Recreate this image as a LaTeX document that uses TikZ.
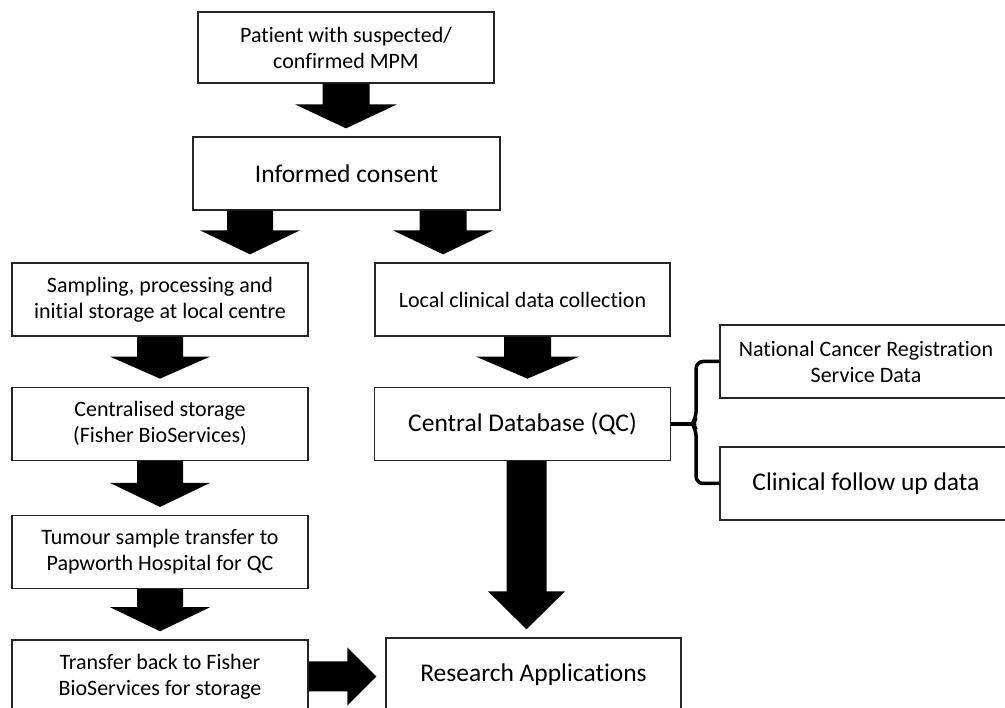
\documentclass[tikz,border=0pt]{standalone}
\usepackage{fontspec}
\setmainfont{Carlito}[Ligatures=NoCommon]
\usetikzlibrary{calc,positioning}
\tikzset{
    box/.style={
           rectangle,
           draw=black!85, line width=1.3pt,
           minimum width=296pt,
           minimum height=73pt,
           inner sep=2pt,
           align=center,
           font=\fontsize{22}{26}\selectfont},
    bigtxt/.style={
           font=\fontsize{25.5}{30}\selectfont},
    bracket/.style={
           line width=3.5pt,
           rounded corners=7pt}
}
% solid block arrows: #1 tail, #2 target, #3 half shaft, #4 half head, #5 head length
\newcommand{\downblock}[5]{%
  \fill let \p1=(#1), \p2=(#2) in
    (\x1-#3,\y1) -- (\x1+#3,\y1) -- (\x1+#3,\y2+#5+8) -- (\x1+#4,\y2+#5+8)
    -- (\x1,\y2+8) -- (\x1-#4,\y2+#5+8) -- (\x1-#3,\y2+#5+8) -- cycle;}
\newcommand{\rightblock}[5]{%
  \fill let \p1=(#1), \p2=(#2) in
    (\x1,\y1+#3) -- (\x1,\y1-#3) -- (\x2-#5-9,\y1-#3) -- (\x2-#5-9,\y1-#4)
    -- (\x2-9,\y1) -- (\x2-#5-9,\y1+#4) -- (\x2-#5-9,\y1+#3) -- cycle;}

\begin{document}
\begin{tikzpicture}[x=1pt, y=-1pt]
        \clip (0,0) rectangle (1005,708);
        \node[box, minimum height=71pt] (patient) at (346,47.5) {Patient with suspected/\\confirmed MPM};
        \node[box, bigtxt, minimum width=307pt] (consent) at (346.5,173.5) {Informed consent};
        \node[box] (sampling) at (160,299.5) {Sampling, processing and\\initial storage at local centre};
        \node[box, minimum width=295pt] (local) at (522.5,299.5) {Local clinical data collection};
        \node[box, below=50pt of sampling] (central) {Centralised storage\\(Fisher BioServices)};
        \node[box, bigtxt, below=50pt of local] (db) {Central Database (QC)};
        \node[box, below=54pt of central] (tumour) {Tumour sample transfer to\\Papworth Hospital for QC};
        \node[box, below=50pt of tumour] (transfer) {Transfer back to Fisher\\BioServices for storage};
        \node[box, bigtxt, minimum width=295pt] (research) at (533.5,674.5) {Research Applications};
        \node[box, minimum width=292pt] (ncr) at (866,361.5) {National Cancer Registration\\Service Data};
        \node[box, bigtxt, minimum width=292pt] (followup) at (866,483.5) {Clinical follow up data};

        \downblock{patient.south}{consent.north}{23.5}{51}{24}
        \downblock{$(consent.south)+(-96.5,0)$}{sampling.north}{23}{50}{24}
        \downblock{$(consent.south)+(96.5,0)$}{local.north}{23.5}{50}{24}
        \downblock{sampling.south}{central.north}{23}{50}{22}
        \downblock{$(local.south)+(5,0)$}{db.north}{23.5}{51.5}{22}
        \downblock{central.south}{tumour.north}{23}{50}{24}
        \downblock{tumour.south}{transfer.north}{23}{50}{24}
        \downblock{$(db.south)+(4,0)$}{research.north}{20}{38.5}{38}
        \rightblock{transfer.east}{research.west}{15}{29}{29}

        % brace joining the database to the outside data
        \coordinate (tip) at ($(db.east)+(21,0)$);
        \draw[bracket] (db.east) -- (tip);
        \draw[bracket] (ncr.west) -| ($(tip)+(4,-6)$) -- (tip) -- ($(tip)+(4,6)$) |- (followup.west);
    \end{tikzpicture}
\end{document}
